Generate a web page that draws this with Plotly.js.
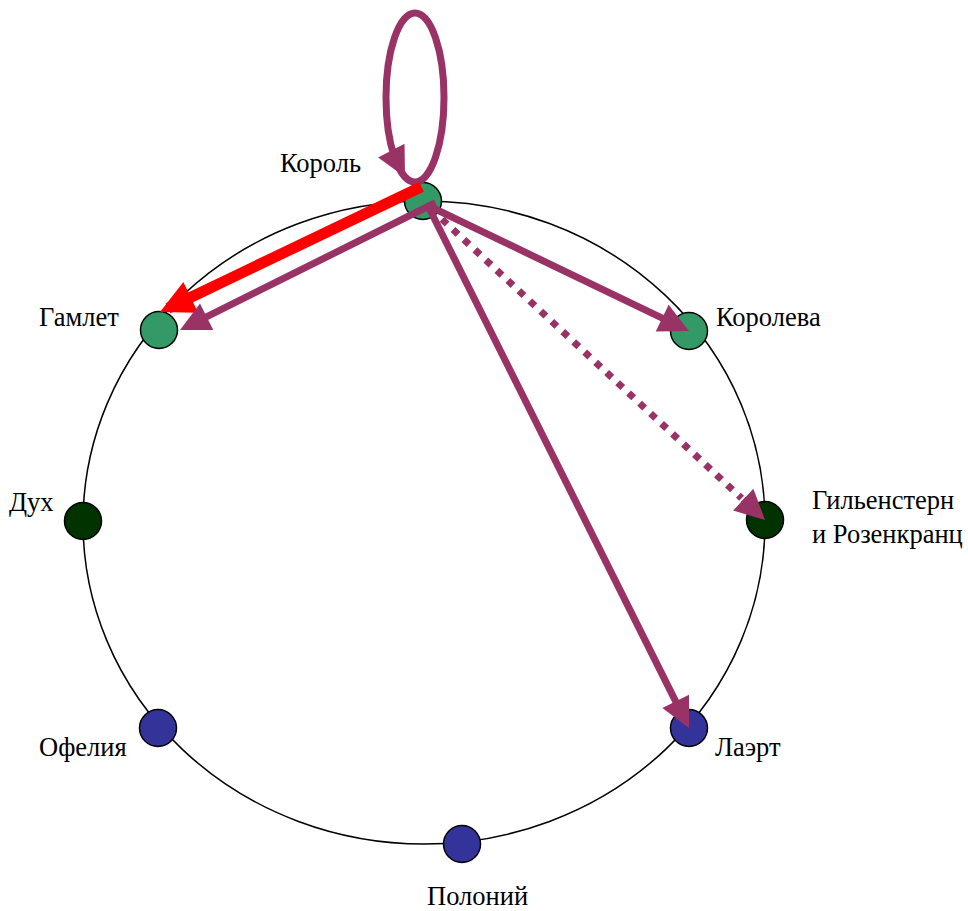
<!DOCTYPE html>
<html>
<head>
<meta charset="utf-8">
<script src="https://cdn.plot.ly/plotly-3.0.1.min.js"></script>
<style>html,body{margin:0;padding:0;background:#fff}#chart{width:968px;height:911px}</style>
</head>
<body>
<div id="chart"></div>
<script>
// Nodes
const nodeNames = ["Король","Гамлет","Королева","Дух","Гильенстерн<br>и Розенкранц","Офелия","Лаэрт","Полоний"];
const nodeX = [423,159,689,83,765,158,689,462];
const nodeY = [201,330,331,521,520,728,728,844];
const nodeColors = ["#339966","#339966","#339966","#003300","#003300","#333399","#333399","#333399"];
// Label placement
const labelX = [363,121,714,56,810,129,713,477];
const labelY = [163,317,317,502,517,747,747,896];
const labelAnchor = ["right","right","left","right","left","right","left","center"];
// Edges: source, target
const edgeSource = [0,0,0,0,0];
const edgeTarget = [1,1,2,4,6];
const edgeColor = ["#FF0000","#993366","#993366","#993366","#993366"];
const edgeWidth = [11,7,7,7,7];
const edgeDotted = [false,false,false,true,false];
const tailDX = [0,14,6,8,4];
const tailDY = [-15,1,5,8,3];
const tipDX = [1,21,0,0,0];
const tipDY = [-18,0,0,0,0];

const FONT = 'Liberation Serif';
const traces = [];
const annotations = [];
const shapes = [
  {type:'circle', xref:'x', yref:'y', x0:83, x1:765, y0:201, y1:844, line:{color:'#000', width:1.5}, layer:'below'},
  {type:'circle', xref:'x', yref:'y', x0:386, x1:444, y0:13, y1:182, line:{color:'#993366', width:7}}
];

for (let i = 0; i < edgeSource.length; i++) {
  const s = edgeSource[i], t = edgeTarget[i];
  const x0 = nodeX[s] + tailDX[i], y0 = nodeY[s] + tailDY[i];
  const x1 = nodeX[t] + tipDX[i], y1 = nodeY[t] + tipDY[i];
  if (edgeDotted[i]) {
    const dx = x1 - x0, dy = y1 - y0, L = Math.hypot(dx, dy);
    const bx = x1 - dx / L * 32, by = y1 - dy / L * 32;
    traces.push({type:'scatter', mode:'lines', x:[x0, bx], y:[y0, by],
      line:{color:edgeColor[i], width:edgeWidth[i], dash:'7px,8px'}, hoverinfo:'skip', showlegend:false});
    annotations.push({x:x1, y:y1, ax:bx, ay:by, xref:'x', yref:'y', axref:'x', ayref:'y',
      showarrow:true, arrowhead:2, arrowsize:0.85, arrowwidth:edgeWidth[i], arrowcolor:edgeColor[i], text:''});
  } else {
    annotations.push({x:x1, y:y1, ax:x0, ay:y0, xref:'x', yref:'y', axref:'x', ayref:'y',
      showarrow:true, arrowhead:2, arrowsize:edgeWidth[i] > 8 ? 0.62 : 0.85, arrowwidth:edgeWidth[i], arrowcolor:edgeColor[i], text:''});
  }
}
// self loop arrowhead
annotations.push({x:405, y:177, ax:391, ay:150, xref:'x', yref:'y', axref:'x', ayref:'y',
  showarrow:true, arrowhead:2, arrowsize:0.85, arrowwidth:7, arrowcolor:'#993366', text:''});

traces.push({type:'scatter', mode:'markers', x:nodeX, y:nodeY,
  marker:{size:37, color:nodeColors, line:{color:'#000', width:1.5}}, hoverinfo:'skip', showlegend:false});

for (let i = 0; i < nodeNames.length; i++) {
  annotations.push({x:labelX[i], y:labelY[i], xref:'x', yref:'y', text:nodeNames[i], showarrow:false,
    xanchor:labelAnchor[i], yanchor:'middle', align:'left',
    font:{family:FONT, size:26.5, color:'#000'}});
}

const layout = {
  width:968, height:911,
  margin:{l:0, r:0, t:0, b:0},
  paper_bgcolor:'#fff', plot_bgcolor:'#fff',
  font:{family:FONT},
  xaxis:{range:[0,968], visible:false, fixedrange:true},
  yaxis:{range:[911,0], visible:false, fixedrange:true},
  shapes:shapes, annotations:annotations, showlegend:false
};
Plotly.newPlot('chart', traces, layout, {staticPlot:true});
</script>
</body>
</html>
